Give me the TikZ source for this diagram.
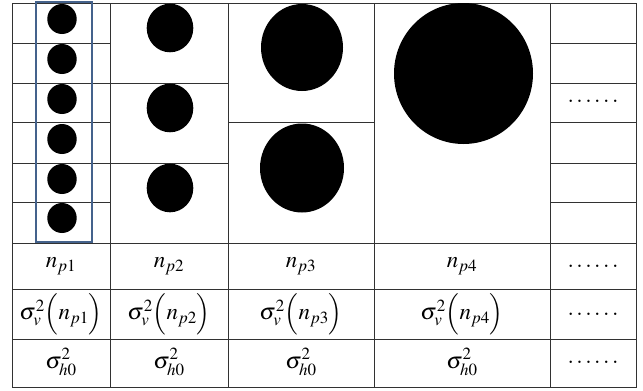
\documentclass[tikz,border=0pt]{standalone}
\usepackage{mathptmx}
\usepackage{tikz}

\tikzset{
  grid line/.style={draw={rgb,255:red,50;green,50;blue,50},line width=1pt},
  dot fill/.style={fill=black},
  cell text/.style={anchor=center,inner sep=0pt,font=\fontsize{23}{27}\selectfont}
}

\begin{document}
\begin{tikzpicture}[x=1pt,y=-1pt]
% 643 x 391, particle sizes table
\useasboundingbox[fill=white] (0,0) rectangle (643,391);
% outer frame and column lines
\path[grid line] (12,3) rectangle (636,387);
\foreach \cx in {110,228,374,550}
  \path[grid line] (\cx,3) -- (\cx,387);
% lower rows
\foreach \cy in {243,289,339}
  \path[grid line] (12,\cy) -- (636,\cy);
% upper sub-rows
\foreach \cy in {43,83,122,163,202} {
  \path[grid line] (12,\cy) -- (110,\cy);
  \path[grid line] (550,\cy) -- (636,\cy);
}
\foreach \cy in {83,163}
  \path[grid line] (110,\cy) -- (228,\cy);
\path[grid line] (228,122) -- (374,122);
% particles
\foreach \cy in {19,59,99,139,179,218}
  \path[dot fill] (62,\cy) ellipse [x radius=14.7,y radius=15];
\foreach \cy in {28,108,188}
  \path[dot fill] (170,\cy) ellipse [x radius=23.3,y radius=24.3];
\path[dot fill] (302,47.5) ellipse [x radius=41,y radius=43.5];
\path[dot fill] (302,168) ellipse [x radius=42,y radius=44.5];
\path[dot fill] (463.5,73.5) ellipse [x radius=69.5,y radius=70.5];
% selected column
\path[draw={rgb,255:red,68;green,98;blue,140},line width=2.6pt] (36,2) rectangle (92,242);
% labels
\node[cell text] (dotsup) at (593,101) {$\ldots\ldots$};
\node[cell text] (np1) at (61,266) {$n_{p1}$};
\node[cell text] (np2) at (169,266) {$n_{p2}$};
\node[cell text] (np3) at (301,266) {$n_{p3}$};
\node[cell text] (np4) at (462,266) {$n_{p4}$};
\node[cell text] (npdots) at (593,266) {$\ldots\ldots$};
\node[cell text] (sv1) at (61,314) {$\sigma_v^2\Bigl(n_{p1}\Bigr)$};
\node[cell text] (sv2) at (169,314) {$\sigma_v^2\Bigl(n_{p2}\Bigr)$};
\node[cell text] (sv3) at (301,314) {$\sigma_v^2\Bigl(n_{p3}\Bigr)$};
\node[cell text] (sv4) at (462,314) {$\sigma_v^2\Bigl(n_{p4}\Bigr)$};
\node[cell text] (svdots) at (593,314) {$\ldots\ldots$};
\node[cell text] (sh1) at (61,362) {$\sigma_{h0}^2$};
\node[cell text] (sh2) at (169,362) {$\sigma_{h0}^2$};
\node[cell text] (sh3) at (301,362) {$\sigma_{h0}^2$};
\node[cell text] (sh4) at (462,362) {$\sigma_{h0}^2$};
\node[cell text] (shdots) at (593,362) {$\ldots\ldots$};
\end{tikzpicture}
\end{document}
